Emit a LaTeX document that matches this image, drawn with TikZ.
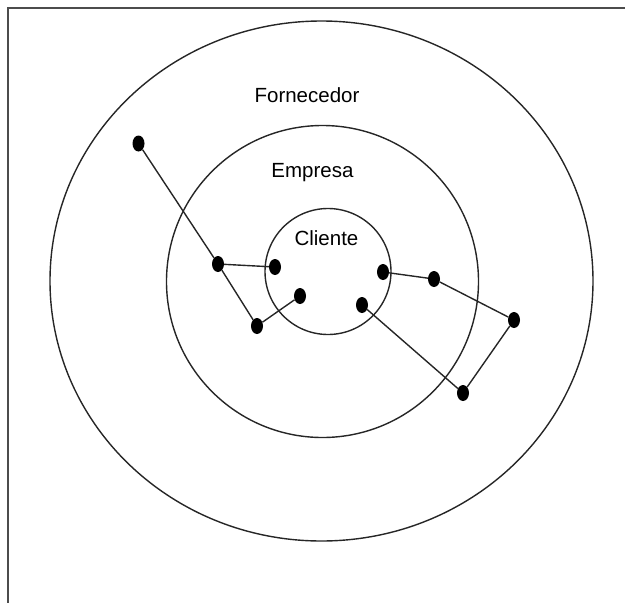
\documentclass[tikz,border=0pt]{standalone}
\usepackage{fontspec}
\setmainfont{Liberation Sans}
\usetikzlibrary{shapes.geometric}
\begin{document}
\begin{tikzpicture}[x=1pt,y=-1pt,
 dot/.style={ellipse,fill=black,draw=none,minimum width=12pt,minimum height=16pt,inner sep=0pt},
 ring/.style={ellipse,draw=black!85,line width=1.4pt,inner sep=0pt},
 link/.style={draw=black!85,line width=1.4pt},
 lbl/.style={font=\fontsize{20.5}{24}\selectfont,inner sep=0pt,anchor=base},
 frameline/.style={draw=black!70,line width=2.5pt}]
\useasboundingbox (0,0) rectangle (625,603);
\coordinate (f1) at (8,603);
\coordinate (f2) at (8,8);
\coordinate (f3) at (625,8);
\draw[frameline] (f1) -- (f2) -- (f3);
\node[ring, minimum width=543pt, minimum height=520pt] (outer) at (321.5,281) {};
\node[ring, minimum width=312pt, minimum height=312pt] (middle) at (322.5,281.5) {};
\node[ring, minimum width=126pt, minimum height=126pt] (inner) at (328,271.5) {};
\node[lbl] (forn) at (307,102) {Fornecedor};
\node[lbl] (emp) at (312.5,177) {Empresa};
\node[lbl] (cli) at (326.5,245) {Cliente};
\node[dot] (A) at (138.5,143.5) {};
\node[dot] (B) at (218,264) {};
\node[dot] (C) at (275,267) {};
\node[dot] (D) at (257,326) {};
\node[dot] (E) at (300,296) {};
\node[dot] (F) at (383,272) {};
\node[dot] (G) at (362,305) {};
\node[dot] (H) at (434,279) {};
\node[dot] (I) at (514,320) {};
\node[dot] (J) at (463,393) {};
\draw[link] (A) -- (B);
\draw[link] (B) -- (D);
\draw[link] (B) -- (C);
\draw[link] (D) -- (E);
\draw[link] (F) -- (H);
\draw[link] (H) -- (I);
\draw[link] (I) -- (J);
\draw[link] (G) -- (J);
\end{tikzpicture}
\end{document}
